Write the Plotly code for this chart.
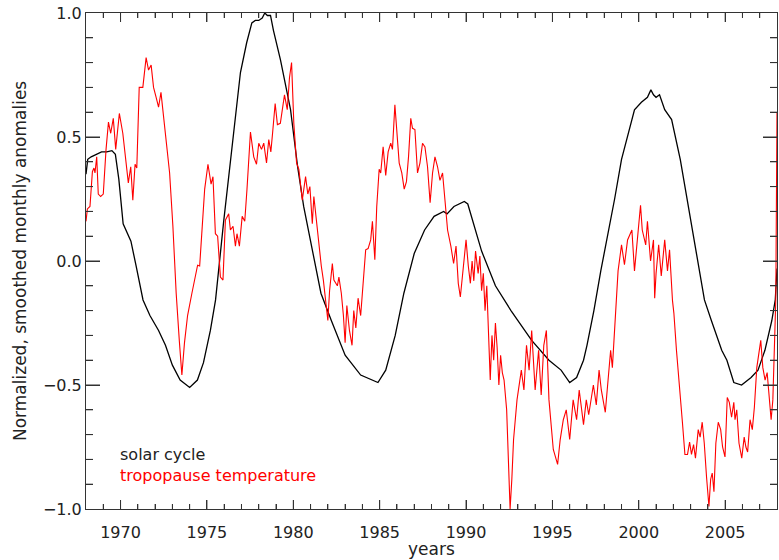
import plotly.graph_objects as go

# Solar cycle index (smoothed, normalized)
solar_years = [1968.0, 1968.1, 1968.3, 1968.6, 1968.9, 1969.2, 1969.5, 1969.7, 1969.9,
               1970.15, 1970.4, 1970.6, 1970.9, 1971.3, 1971.7, 1972.2, 1972.6, 1973.0,
               1973.45, 1974.0, 1974.45, 1974.8, 1975.2, 1975.5, 1975.97, 1976.45, 1976.94,
               1977.3, 1977.6, 1977.8, 1978.0, 1978.2, 1978.35, 1978.5, 1978.68, 1978.85,
               1979.26, 1979.84, 1980.25, 1980.6, 1981.2, 1981.6, 1982.2, 1983.0, 1983.9,
               1984.5, 1984.9, 1985.35, 1985.9, 1986.4, 1987.0, 1987.6, 1988.15, 1988.7,
               1988.9, 1989.3, 1989.9, 1990.1, 1990.3, 1990.9, 1991.7, 1992.6, 1993.8,
               1994.8, 1995.5, 1996.0, 1996.4, 1996.8, 1997.0, 1997.4, 1997.8, 1998.2,
               1998.6, 1999.0, 1999.4, 1999.75, 2000.15, 2000.5, 2000.7, 2000.85, 2001.0,
               2001.2, 2001.5, 2001.9, 2002.4, 2002.8, 2003.0, 2003.4, 2003.8, 2004.2,
               2004.8, 2005.1, 2005.5, 2005.95, 2006.5, 2006.9, 2007.3, 2007.7, 2007.9,
               2008.0]
solar_vals = [0.35, 0.41, 0.42, 0.43, 0.44, 0.44, 0.445, 0.43, 0.33,
              0.15, 0.11, 0.08, -0.02, -0.157, -0.22, -0.28, -0.34, -0.42,
              -0.48, -0.51, -0.48, -0.41, -0.28, -0.157, 0.16, 0.45, 0.76,
              0.88, 0.96, 0.97, 0.97, 0.98, 1.0, 0.99, 0.99, 0.93,
              0.81, 0.61, 0.38, 0.22, 0.016, -0.13, -0.24, -0.38, -0.46,
              -0.48, -0.49, -0.44, -0.30, -0.13, 0.03, 0.125, 0.18, 0.20,
              0.19, 0.22, 0.24, 0.23, 0.18, 0.04, -0.10, -0.20, -0.32,
              -0.40, -0.44, -0.49, -0.47, -0.40, -0.34, -0.20, -0.04, 0.10,
              0.25, 0.41, 0.52, 0.61, 0.64, 0.66, 0.69, 0.67, 0.66,
              0.67, 0.61, 0.57, 0.41, 0.25, 0.17, 0.02, -0.157, -0.24,
              -0.36, -0.40, -0.49, -0.50, -0.47, -0.44, -0.36, -0.24, -0.157,
              -0.03]

# Tropopause temperature anomalies (smoothed monthly, normalized)
tropo_years = [1968.00, 1968.08, 1968.23, 1968.37, 1968.46, 1968.52, 1968.62, 1968.71, 1968.85,
               1969.00, 1969.16, 1969.30, 1969.43, 1969.58, 1969.72, 1969.93, 1970.13, 1970.32,
               1970.45, 1970.59, 1970.71, 1970.84, 1970.94, 1971.08, 1971.29, 1971.48, 1971.62,
               1971.77, 1971.91, 1972.06, 1972.20, 1972.34, 1972.45, 1972.64, 1972.84, 1973.03,
               1973.22, 1973.40, 1973.55, 1973.70, 1973.88, 1974.13, 1974.33, 1974.46, 1974.58,
               1974.67, 1974.87, 1975.06, 1975.24, 1975.35, 1975.49, 1975.62, 1975.78, 1975.93,
               1976.07, 1976.26, 1976.36, 1976.51, 1976.65, 1976.74, 1976.88, 1977.04, 1977.19,
               1977.32, 1977.52, 1977.71, 1977.87, 1978.00, 1978.16, 1978.29, 1978.45, 1978.58,
               1978.70, 1978.80, 1978.95, 1979.08, 1979.25, 1979.49, 1979.65, 1979.78, 1979.90,
               1980.03, 1980.19, 1980.32, 1980.52, 1980.71, 1980.84, 1980.96, 1981.10, 1981.19,
               1981.35, 1981.48, 1981.62, 1981.74, 1981.87, 1982.00, 1982.10, 1982.26, 1982.35,
               1982.55, 1982.64, 1982.78, 1982.90, 1983.00, 1983.10, 1983.25, 1983.40, 1983.50,
               1983.62, 1983.75, 1983.90, 1984.00, 1984.19, 1984.33, 1984.48, 1984.58, 1984.72,
               1984.83, 1984.97, 1985.06, 1985.20, 1985.35, 1985.49, 1985.64, 1985.74, 1985.88,
               1986.03, 1986.13, 1986.28, 1986.42, 1986.55, 1986.67, 1986.80, 1986.90, 1987.04,
               1987.19, 1987.33, 1987.48, 1987.62, 1987.77, 1987.92, 1988.06, 1988.20, 1988.35,
               1988.49, 1988.64, 1988.78, 1988.93, 1989.12, 1989.28, 1989.42, 1989.55, 1989.67,
               1989.80, 1990.00, 1990.13, 1990.25, 1990.35, 1990.45, 1990.55, 1990.70, 1990.80,
               1990.90, 1991.00, 1991.10, 1991.20, 1991.30, 1991.40, 1991.50, 1991.60, 1991.70,
               1991.80, 1991.90, 1992.00, 1992.10, 1992.20, 1992.35, 1992.45, 1992.55, 1992.65,
               1992.75, 1992.95, 1993.20, 1993.35, 1993.50, 1993.65, 1993.80, 1994.00, 1994.20,
               1994.35, 1994.50, 1994.65, 1994.80, 1995.05, 1995.30, 1995.45, 1995.63, 1995.80,
               1996.00, 1996.20, 1996.40, 1996.55, 1996.80, 1996.96, 1997.10, 1997.37, 1997.54,
               1997.70, 1997.83, 1998.06, 1998.22, 1998.37, 1998.47, 1998.60, 1998.70, 1998.80,
               1999.00, 1999.17, 1999.35, 1999.60, 1999.75, 1999.90, 2000.10, 2000.20, 2000.40,
               2000.50, 2000.68, 2000.85, 2000.92, 2001.00, 2001.15, 2001.30, 2001.50, 2001.66,
               2001.78, 2001.95, 2002.03, 2002.18, 2002.38, 2002.53, 2002.67, 2002.82, 2002.94,
               2003.05, 2003.17, 2003.28, 2003.44, 2003.55, 2003.67, 2003.79, 2003.92, 2004.06,
               2004.16, 2004.25, 2004.35, 2004.46, 2004.60, 2004.74, 2004.85, 2004.99, 2005.12,
               2005.24, 2005.37, 2005.50, 2005.57, 2005.67, 2005.80, 2005.96, 2006.10, 2006.20,
               2006.30, 2006.44, 2006.57, 2006.69, 2006.83, 2006.92, 2007.06, 2007.18, 2007.31,
               2007.43, 2007.56, 2007.66, 2007.76, 2007.85, 2007.93, 2008.00]
tropo_vals = [0.16, 0.21, 0.22, 0.36, 0.375, 0.355, 0.42, 0.27, 0.26,
              0.27, 0.45, 0.56, 0.515, 0.575, 0.45, 0.595, 0.515, 0.41,
              0.315, 0.38, 0.245, 0.39, 0.375, 0.70, 0.70, 0.82, 0.77,
              0.79, 0.70, 0.66, 0.62, 0.68, 0.61, 0.49, 0.355, 0.14,
              -0.13, -0.32, -0.46, -0.33, -0.22, -0.13, -0.065, -0.017, -0.02,
              0.065, 0.29, 0.39, 0.31, 0.34, 0.11, 0.10, -0.065, -0.077,
              0.165, 0.19, 0.125, 0.14, 0.06, 0.11, 0.06, 0.18, 0.16,
              0.29, 0.52, 0.42, 0.39, 0.475, 0.45, 0.475, 0.395, 0.49,
              0.44, 0.515, 0.635, 0.55, 0.555, 0.67, 0.61, 0.74, 0.80,
              0.555, 0.395, 0.37, 0.245, 0.34, 0.27, 0.30, 0.15, 0.26,
              0.15, 0.07, -0.02, -0.077, -0.157, -0.24, -0.12, -0.01, -0.077,
              -0.10, -0.065, -0.13, -0.22, -0.33, -0.18, -0.28, -0.34, -0.20,
              -0.27, -0.15, -0.22, -0.13, 0.045, 0.05, 0.085, 0.16, 0.005,
              0.22, 0.37, 0.355, 0.46, 0.345, 0.44, 0.475, 0.45, 0.63,
              0.46, 0.395, 0.355, 0.29, 0.32, 0.42, 0.575, 0.535, 0.53,
              0.355, 0.395, 0.475, 0.46, 0.38, 0.235, 0.355, 0.42, 0.38,
              0.325, 0.355, 0.245, 0.125, 0.06, -0.01, 0.06, -0.09, -0.145,
              -0.05, 0.085, -0.02, -0.09, 0.0, -0.08, 0.04, -0.05, 0.02,
              -0.12, -0.05, -0.20, -0.10, -0.28, -0.48, -0.30, -0.40, -0.25,
              -0.35, -0.50, -0.38, -0.45, -0.48, -0.60, -0.85, -1.00, -0.88,
              -0.72, -0.56, -0.44, -0.52, -0.34, -0.44, -0.28, -0.52, -0.36,
              -0.54, -0.34, -0.28, -0.56, -0.76, -0.82, -0.72, -0.64, -0.60,
              -0.72, -0.56, -0.64, -0.52, -0.66, -0.56, -0.62, -0.50, -0.58,
              -0.44, -0.52, -0.61, -0.47, -0.36, -0.43, -0.265, -0.157, -0.04,
              0.065, -0.015, 0.085, 0.125, -0.04, 0.085, 0.225, 0.125, 0.065,
              0.16, 0.0, 0.085, -0.15, -0.05, 0.065, -0.06, 0.085, -0.04,
              0.045, -0.16, -0.21, -0.36, -0.51, -0.655, -0.78, -0.78, -0.73,
              -0.78, -0.74, -0.795, -0.68, -0.71, -0.65, -0.735, -0.87, -0.99,
              -0.88, -0.855, -0.93, -0.735, -0.65, -0.68, -0.75, -0.79, -0.55,
              -0.57, -0.63, -0.57, -0.64, -0.60, -0.735, -0.795, -0.71, -0.75,
              -0.77, -0.64, -0.68, -0.59, -0.43, -0.39, -0.32, -0.43, -0.48,
              -0.45, -0.55, -0.64, -0.56, -0.36, -0.157, 0.60]

x_range = [1968, 2008]
y_range = [-1.0, 1.0]
x_major_ticks = [1970, 1975, 1980, 1985, 1990, 1995, 2000, 2005]
x_minor_ticks = [yr for yr in range(1969, 2008) if yr % 5]
y_major_ticks = [-0.5, 0.0, 0.5]
y_minor_ticks = [-0.9, -0.8, -0.7, -0.6, -0.4, -0.3, -0.2, -0.1,
                 0.1, 0.2, 0.3, 0.4, 0.6, 0.7, 0.8, 0.9]
y_title = "Normalized, smoothed monthly anomalies"
x_title = "years"
solar_label = "solar cycle"
tropo_label = "tropopause temperature"

FONT = "DejaVu Sans"
INK = "#222222"
AXIS = "#333333"
RED = "#ff0000"

fig = go.Figure()
fig.add_trace(go.Scatter(x=solar_years, y=solar_vals, mode="lines",
                         line=dict(color="#000000", width=1.3), hoverinfo="skip"))
fig.add_trace(go.Scatter(x=tropo_years, y=tropo_vals, mode="lines",
                         line=dict(color=RED, width=1.1), hoverinfo="skip"))


def x_tick(xv, edge, length):
    """Inward tick on the bottom (edge=0) or top (edge=1) frame, fixed pixel length."""
    sign = 1 if edge == 0 else -1
    return dict(type="line", layer="above", xref="x", x0=xv, x1=xv,
                yref="paper", ysizemode="pixel", yanchor=edge, y0=0, y1=sign * length,
                line=dict(color=AXIS, width=1))


def y_tick(yv, edge, length):
    """Inward tick on the left (edge=0) or right (edge=1) frame, fixed pixel length."""
    sign = 1 if edge == 0 else -1
    return dict(type="line", layer="above", yref="y", y0=yv, y1=yv,
                xref="paper", xsizemode="pixel", xanchor=edge, x0=0, x1=sign * length,
                line=dict(color=AXIS, width=1))


frame_ticks = []
for edge in (0, 1):
    frame_ticks += [x_tick(v, edge, 9) for v in x_major_ticks]
    frame_ticks += [x_tick(v, edge, 5) for v in x_minor_ticks]
    frame_ticks += [y_tick(v, edge, 14) for v in y_major_ticks]
    frame_ticks += [y_tick(v, edge, 7) for v in y_minor_ticks]

fig.update_xaxes(range=x_range, tick0=1970, dtick=5, ticklen=9,
                 ticklabelstandoff=9,
                 showline=True, linecolor=AXIS, mirror="allticks", ticks="inside",
                 tickcolor=AXIS, showgrid=False, zeroline=False,
                 tickfont=dict(family=FONT, size=16, color=INK),
                 minor=dict(dtick=1, ticks="inside", ticklen=5, tickcolor=AXIS))
fig.update_yaxes(range=y_range, dtick=0.5, ticklen=14, tickformat=".1f",
                 showline=True, linecolor=AXIS, mirror="allticks", ticks="inside",
                 tickcolor=AXIS, showgrid=False, zeroline=False,
                 tickfont=dict(family=FONT, size=16, color=INK),
                 minor=dict(dtick=0.1, ticks="inside", ticklen=7, tickcolor=AXIS))

legend_text = f'{solar_label}<br><span style="color:{RED}">{tropo_label}</span>'

annotations = [
    dict(text=y_title, xref="paper", yref="paper", x=-0.0955, y=0.5,
         xanchor="center", yanchor="middle", textangle=-90, showarrow=False,
         font=dict(family=FONT, size=17, color=INK)),
    dict(text=x_title, xref="paper", yref="paper", x=0.5, y=-0.0806,
         xanchor="center", yanchor="middle", showarrow=False,
         font=dict(family=FONT, size=17, color=INK)),
    dict(text=legend_text, xref="paper", yref="paper", x=0.0463, y=0.0887,
         xanchor="left", yanchor="middle", align="left", showarrow=False,
         font=dict(family=FONT, size=16, color=INK)),
]

fig.update_layout(
    width=779, height=560,
    margin=dict(l=86, r=2, t=13, b=51),
    paper_bgcolor="white", plot_bgcolor="white",
    showlegend=False,
    annotations=annotations,
    shapes=frame_ticks,
)

fig.write_html("out.html")
